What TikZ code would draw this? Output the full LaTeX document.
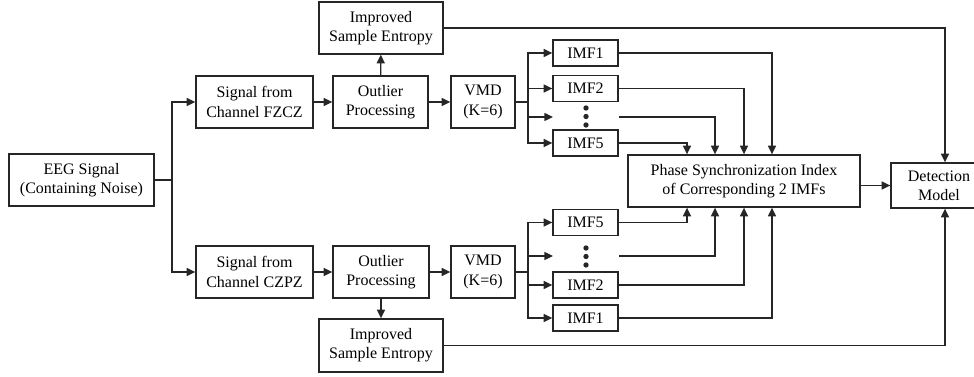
\documentclass[tikz,border=0pt]{standalone}
\usepackage{fontspec}
\setmainfont{Liberation Serif}
\usetikzlibrary{arrows.meta,calc}
\begin{document}
\begin{tikzpicture}[x=0.75pt,y=-0.75pt,
  box/.style={draw=black!85,line width=1pt,minimum height=39pt,align=center,inner sep=0pt,font=\fontsize{12}{14.4}\selectfont},
  txt/.style={align=center,inner sep=0pt,font=\fontsize{12}{14.4}\selectfont},
  imf/.style={draw=black!85,line width=1pt,minimum width=48.75pt,minimum height=19.5pt,inner sep=0pt,font=\fontsize{12}{14}\selectfont},
  conn/.style={draw=black!85,line width=1pt,-{Triangle[length=6.5pt,width=6pt]}},
  line/.style={draw=black!85,line width=1pt},
  dot/.style={circle,fill=black!85,inner sep=0pt,minimum size=4pt}]
\clip (0,0) rectangle (974,377);
\useasboundingbox (0,0) rectangle (974,377);
% main boxes
\node[box,minimum width=108.75pt] (eeg) at (81.5,180) {EEG Signal\\(Containing Noise)};
\node[box,minimum width=87.75pt] (fz) at (254.5,102) {Signal from\\Channel FZCZ};
\node[box,minimum width=71.25pt] (op1) at (380.5,102) {Outlier\\Processing};
\node[box,minimum width=48pt] (vmd1) at (483,102) {VMD\\(K=6)};
\node[box,minimum width=93pt] (ise1) at (381,28) {Improved\\Sample Entropy};
\node[box,minimum width=87.75pt] (cz) at (254.5,272) {Signal from\\Channel CZPZ};
\node[box,minimum width=72pt] (op2) at (381,272) {Outlier\\Processing};
\node[box,minimum width=48pt] (vmd2) at (483,272) {VMD\\(K=6)};
\node[box,minimum width=93pt,minimum height=39.75pt] (ise2) at (381,345.5) {Improved\\Sample Entropy};
\node[box,minimum width=174pt] (psi) at (744,181) {Phase Synchronization Index\\of Corresponding 2 IMFs};
\node[box,minimum width=81pt,minimum height=33.75pt] (det) at (945,185.5) {};
\node[txt] (dettext) at (939,185.5) {Detection\\Model};
% IMF boxes top
\node[imf] (ta1) at (585.5,53) {IMF1};
\node[imf] (ta2) at (585.5,88.5) {IMF2};
\node[imf] (ta5) at (585.5,143) {IMF5};
\node[dot] (td1) at (586,108) {};
\node[dot] (td2) at (586,116.5) {};
\node[dot] (td3) at (586,125) {};
\coordinate (tdin) at (553,117);
\coordinate (tdout) at (619,117);
% IMF boxes bottom
\node[imf] (ba5) at (585.5,222.5) {IMF5};
\node[imf] (ba2) at (585.5,285) {IMF2};
\node[imf] (ba1) at (585.5,318) {IMF1};
\node[dot] (bd1) at (586,248) {};
\node[dot] (bd2) at (586,256.5) {};
\node[dot] (bd3) at (586,265) {};
\coordinate (bdin) at (553,256);
\coordinate (bdout) at (619,256);
% branch coordinates
\coordinate (j0) at (172,180);
\coordinate (jt) at (528,102);
\coordinate (jb) at (528,272);
\coordinate (c5) at (687,0);
\coordinate (cd) at (715,0);
\coordinate (c2) at (744,0);
\coordinate (c1) at (772,0);
% EEG split
\draw[line] (eeg.east) -- (j0);
\draw[conn] (j0) |- (fz.west);
\draw[conn] (j0) |- (cz.west);
% top chain
\draw[conn] (fz) -- (op1);
\draw[conn] (op1) -- (vmd1);
\draw[conn] (op1) -- (ise1);
\draw[line] (vmd1.east) -- (jt);
\draw[conn] (jt) |- (ta1.west);
\draw[conn] (jt) |- (ta2.west);
\draw[conn] (jt) |- (tdin);
\draw[conn] (jt) |- (ta5.west);
% bottom chain
\draw[conn] (cz) -- (op2);
\draw[conn] (op2) -- (vmd2);
\draw[conn] (op2) -- (ise2);
\draw[line] (vmd2.east) -- (jb);
\draw[conn] (jb) |- (ba5.west);
\draw[conn] (jb) |- (bdin);
\draw[conn] (jb) |- (ba2.west);
\draw[conn] (jb) |- (ba1.west);
% IMFs to PSI
\draw[conn] (ta1.east) -| (c1 |- psi.north);
\draw[conn] (ta2.east) -| (c2 |- psi.north);
\draw[conn] (tdout) -| (cd |- psi.north);
\draw[conn] (ta5.east) -| (c5 |- psi.north);
\draw[conn] (ba1.east) -| (c1 |- psi.south);
\draw[conn] (ba2.east) -| (c2 |- psi.south);
\draw[conn] (bdout) -| (cd |- psi.south);
\draw[conn] (ba5.east) -| (c5 |- psi.south);
% to detection
\draw[conn] (psi.east |- det.west) -- (det.west);
\draw[conn] (ise1.east) -| (det.north);
\draw[conn] (ise2.east) -| (det.south);
\end{tikzpicture}
\end{document}
